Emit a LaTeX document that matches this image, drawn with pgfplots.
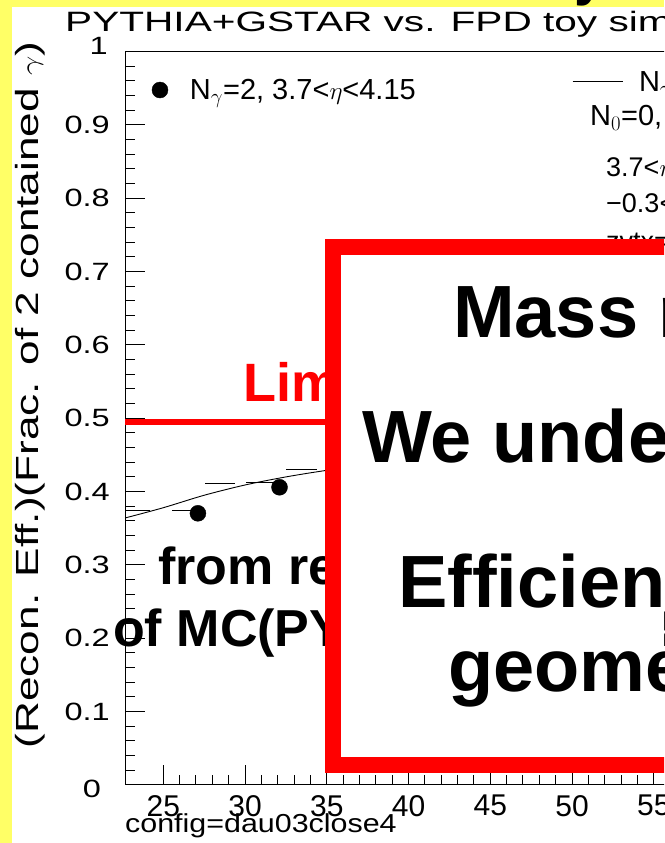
\documentclass[border=0pt]{standalone}
\usepackage{pgfplots}
\pgfplotsset{compat=1.18}
\usepackage{fontspec}
\setmainfont{Liberation Sans}
\usepackage{graphicx}

\definecolor{slideyellow}{RGB}{255,255,102}
\definecolor{boxred}{RGB}{255,0,0}

% font size helper and horizontal stretch for the ROOT-style lettering
\newcommand{\fs}[1]{\fontsize{#1}{#1}\selectfont}
\newcommand{\wide}[2]{\scalebox{#1}[1]{#2}}

% reconstructed efficiency points
\pgfplotstableread{
x      y
27.12  0.3704
32.11  0.4059
}\effpoints

\begin{document}
\begin{tikzpicture}
% the page is the visible slide region only
\useasboundingbox (0pt,0pt) rectangle (664pt,843pt);
\clip (0pt,0pt) rectangle (664pt,843pt);
\fill[slideyellow] (0pt,0pt) rectangle (664pt,843pt);
\fill[white] (12pt,0pt) rectangle (664pt,836pt);
% descender of the slide heading above
\node[anchor=base west, inner sep=0pt, font=\fs{56}\bfseries] at (574pt,848pt) {y};

\begin{axis}[
  at={(125pt,58pt)}, anchor=south west,
  scale only axis, width=610.5pt, height=733.5pt,
  xmin=22.66, xmax=60, ymin=0, ymax=1,
  axis line style={black, line width=1pt},
  tick style={black, line width=1pt},
  tick align=inside, tick pos=left,
  major tick length=20pt, minor tick length=10pt,
  xtick={25,30,35,40,45,50,55}, minor x tick num=4,
  ytick={0,0.1,0.2,0.3,0.4,0.5,0.6,0.7,0.8,0.9,1},
  minor y tick num=4,
  xticklabels={25,30,35,40,45,50,55},
  yticklabels={,\wide{1.3}{0.1},\wide{1.3}{0.2},\wide{1.3}{0.3},\wide{1.3}{0.4},\wide{1.3}{0.5},\wide{1.3}{0.6},\wide{1.3}{0.7},\wide{1.3}{0.8},\wide{1.3}{0.9},},
  xticklabel style={font=\fs{30}, anchor=north, inner sep=0pt, yshift=-10pt},
  yticklabel style={font=\fs{25}, anchor=east, inner sep=0pt, xshift=-15pt},
  legend style={at={(0.0442,0.9475)}, anchor=west, draw=none, fill=none,
    inner sep=0pt, outer sep=0pt, font=\fs{29},
    nodes={inner sep=0pt},
    /tikz/every odd column/.append style={column sep=22pt}},
  legend image code/.code={\draw[#1] plot coordinates {(0pt,0pt)};},
]
% acceptance limit
\addplot[boxred, line width=5.5pt, forget plot] coordinates {(22.66,0.4949) (40,0.4949)};
% toy simulation curve
\addplot[black, line width=0.9pt, smooth, forget plot] coordinates {
 (22.66,0.364) (25,0.378) (27.5,0.395) (30,0.409) (32.5,0.420) (35,0.429) (40,0.445)};
% MC histogram bins (horizontal bin widths only)
\addplot[draw=none, mark=none, forget plot,
  error bars/.cd, x dir=both, x explicit, error mark=none,
  error bar style={black, line width=1pt}] coordinates {
 (23.30,0.3745) +- (0.90,0)
 (26.40,0.3745) +- (0.85,0)
 (28.47,0.4104) +- (0.92,0)
 (30.95,0.4130) +- (0.90,0)
 (33.43,0.4304) +- (0.95,0)
};
\addplot[only marks, mark=*, mark size=8pt, black] table {\effpoints};
\addlegendentry{N$_\gamma$=2, 3.7<$\eta$<4.15}
\end{axis}

\begin{axis}[
  at={(125pt,58pt)}, anchor=south west,
  scale only axis, width=610.5pt, height=733.5pt,
  xmin=22.66, xmax=60, ymin=0, ymax=1, hide axis,
  legend style={at={(0.7322,0.9584)}, anchor=west, draw=none, fill=none,
    inner sep=0pt, outer sep=0pt, font=\fs{29},
    nodes={inner sep=0pt},
    /tikz/every odd column/.append style={column sep=16pt}},
  legend image code/.code={\draw[#1] (0pt,0pt) -- (50pt,0pt);},
]
\addlegendimage{black, line width=1pt}
\addlegendentry{N$_\gamma$=2, toy simulation}
\end{axis}

\begin{scope}[x=1pt,y=1pt]
% axis end labels, set apart from the other tick labels
\node[font=\fs{25}, anchor=east, inner sep=0pt] at (108,797) {\wide{1.3}{1}};
\node[font=\fs{25}, inner sep=0pt] at (92,54) {\wide{1.3}{0}};

% titles and annotations
\node[anchor=base west, inner sep=0pt, font=\fs{28}] at (65,811) {\wide{1.45}{PYTHIA+GSTAR vs. FPD toy simulation}};
\node[rotate=90, inner sep=0pt, font=\fs{32}] at (30,448) {\wide{1.38}{(Recon. Eff.)(Frac. of 2 contained $\gamma$)}};
\node[anchor=base west, inner sep=0pt, font=\fs{26}] at (125,10) {\wide{1.17}{config=dau03close4}};

\node[anchor=base west, inner sep=0pt, font=\fs{29}] at (590,717) {N$_0$=0, N$_{\pi}$=1};
\node[anchor=base west, inner sep=0pt, font=\fs{27}] at (606,666) {3.7<$\eta$<4.15};
\node[anchor=base west, inner sep=0pt, font=\fs{27}] at (606,630) {−0.3<x<0.3};
\node[anchor=base west, inner sep=0pt, font=\fs{27}] at (606,592) {zvtx=0};

\node[anchor=base west, inner sep=0pt, font=\fs{54}\bfseries, text=boxred] at (243,441) {Limit};
\node[anchor=base west, inner sep=0pt, font=\fs{52}\bfseries] at (158,258) {from reconstruction};
\node[anchor=base west, inner sep=0pt, font=\fs{52}\bfseries] at (113,196) {of MC(PYTHIA+GSTAR)};

% overlay box
\draw[boxred, line width=16pt, fill=white] (333,78) rectangle (720,596);
\node[anchor=base west, inner sep=0pt, font=\fs{74}\bfseries] at (453,505) {Mass resolution};
\node[anchor=base west, inner sep=0pt, font=\fs{74}\bfseries] at (362,380) {We understand};
\node[anchor=base west, inner sep=0pt, font=\fs{74}\bfseries] at (398,235) {Efficiency from};
\node[anchor=base west, inner sep=0pt, font=\fs{74}\bfseries] at (448,151) {geometry};
\end{scope}
\end{tikzpicture}
\end{document}
